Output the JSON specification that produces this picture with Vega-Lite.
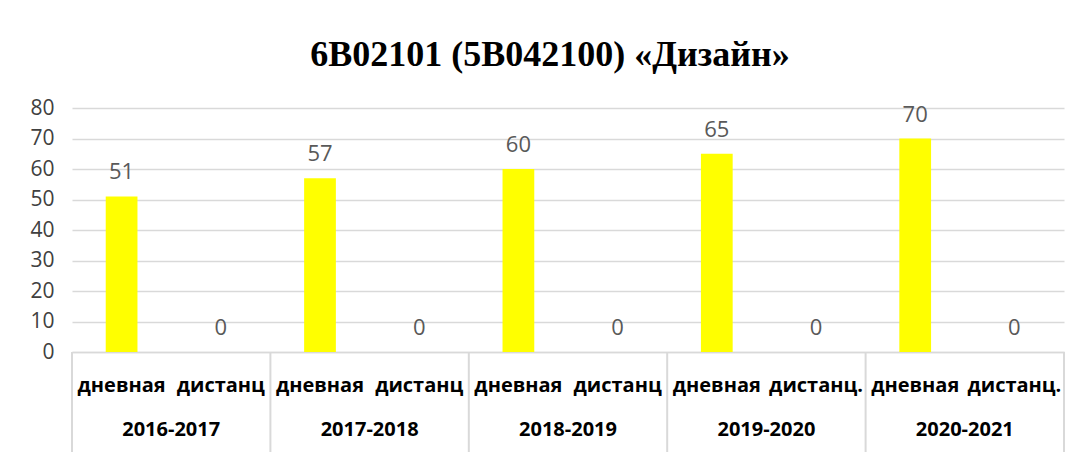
{
  "$schema": "https://vega.github.io/schema/vega-lite/v6.json",
  "width": 992,
  "height": 244,
  "autosize": {"type": "none"},
  "padding": {"left": 72, "top": 108, "right": 15, "bottom": 100},
  "background": "white",
  "title": {
    "text": "6В02101 (5В042100) «Дизайн»",
    "font": "Liberation Serif",
    "fontSize": 36,
    "fontWeight": "bold",
    "color": "#000000",
    "anchor": "middle",
    "frame": "group",
    "baseline": "alphabetic",
    "offset": -5,
    "dx": -18
  },
  "config": {"view": {"stroke": null}},
  "data": {
    "values": [
      {"year": "2016-2017", "form": "дневная", "key": "2016-2017|дневная", "count": 51},
      {"year": "2016-2017", "form": "дистанц", "key": "2016-2017|дистанц", "count": 0},
      {"year": "2017-2018", "form": "дневная", "key": "2017-2018|дневная", "count": 57},
      {"year": "2017-2018", "form": "дистанц", "key": "2017-2018|дистанц", "count": 0},
      {"year": "2018-2019", "form": "дневная", "key": "2018-2019|дневная", "count": 60},
      {"year": "2018-2019", "form": "дистанц", "key": "2018-2019|дистанц", "count": 0},
      {"year": "2019-2020", "form": "дневная", "key": "2019-2020|дневная", "count": 65},
      {"year": "2019-2020", "form": "дистанц.", "key": "2019-2020|дистанц.", "count": 0},
      {"year": "2020-2021", "form": "дневная", "key": "2020-2021|дневная", "count": 70},
      {"year": "2020-2021", "form": "дистанц.", "key": "2020-2021|дистанц.", "count": 0}
    ]
  },
  "encoding": {
    "x": {
      "field": "key",
      "type": "nominal",
      "sort": null,
      "scale": {"paddingInner": 0, "paddingOuter": 0},
      "axis": {
        "title": null,
        "labelExpr": "split(datum.label, '|')[1]",
        "labelFont": "Open Sans",
        "labelFontWeight": "bold",
        "labelFontSize": 20,
        "labelColor": "#000000",
        "labelAngle": 0,
        "labelPadding": 23,
        "ticks": false,
        "grid": false,
        "domainColor": "#d9d9d9",
        "domainWidth": 1.5
      }
    },
    "y": {
      "field": "count",
      "type": "quantitative",
      "scale": {"domain": [0, 80], "nice": false},
      "axis": {
        "title": null,
        "values": [0, 10, 20, 30, 40, 50, 60, 70, 80],
        "labelOverlap": false,
        "grid": true,
        "gridColor": "#d9d9d9",
        "gridWidth": 1.5,
        "domain": false,
        "ticks": false,
        "labelFont": "Open Sans",
        "labelFontSize": 21,
        "labelColor": "#404040",
        "labelPadding": 18
      }
    }
  },
  "layer": [
    {
      "mark": {"type": "bar", "color": "#FFFF00", "width": {"band": 0.32}}
    },
    {
      "mark": {"type": "text", "baseline": "alphabetic", "dy": -17, "font": "Open Sans", "fontSize": 22, "color": "#595959"},
      "encoding": {
        "text": {"field": "count", "type": "quantitative"}
      }
    },
    {
      "transform": [{"filter": "datum.form != 'дневная'"}],
      "mark": {"type": "text", "baseline": "alphabetic", "font": "Open Sans", "fontWeight": "bold", "fontSize": 20, "color": "#000000"},
      "encoding": {
        "x": {"field": "key", "type": "nominal", "sort": null, "bandPosition": 0},
        "y": {"datum": -27.5},
        "text": {"field": "year", "type": "nominal"}
      }
    },
    {
      "transform": [{"filter": "datum.form == 'дневная'"}],
      "mark": {"type": "rule", "color": "#d9d9d9", "strokeWidth": 2},
      "encoding": {
        "x": {"field": "key", "type": "nominal", "sort": null, "bandPosition": 0},
        "y": {"datum": 0},
        "y2": {"datum": -33}
      }
    },
    {
      "transform": [{"filter": "datum.key == '2020-2021|дистанц.'"}],
      "mark": {"type": "rule", "color": "#d9d9d9", "strokeWidth": 2},
      "encoding": {
        "x": {"field": "key", "type": "nominal", "sort": null, "bandPosition": 1},
        "y": {"datum": 0},
        "y2": {"datum": -33}
      }
    }
  ]
}
